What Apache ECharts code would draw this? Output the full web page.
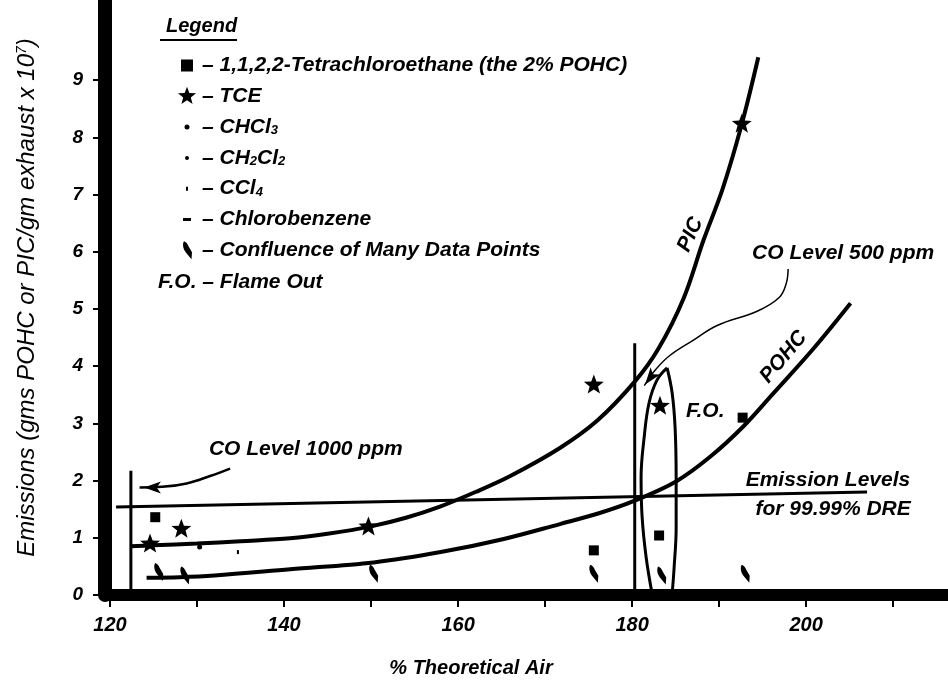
<!DOCTYPE html>
<html><head><meta charset="utf-8">
<script src="https://cdn.jsdelivr.net/npm/echarts@6/dist/echarts.min.js"></script>
<style>html,body{margin:0;padding:0;background:#fff}#c{width:948px;height:683px}</style>
</head><body><div id="c"></div>
<script>
const FONT = "'Liberation Sans', Arial, Helvetica, sans-serif";

// ---- axes ----
const xTicks = [120,130,140,150,160,170,180,190,200,210];
const xLabels = [120,140,160,180,200];
const yTicks = [0,1,2,3,4,5,6,7,8,9];

// ---- data series ----
const tetraPts = [[125.2,1.36],[175.6,0.78],[183.1,1.04],[192.7,3.10]];
const tcePts = [[124.6,0.89],[128.2,1.15],[149.7,1.19],[175.6,3.67],[183.2,3.30],[192.6,8.23]];
const chcl3Pts = [];
const ch2cl2Pts = [[130.3,0.84]];
const ccl4Pts = [[134.7,0.75]];
const chloroPts = [];
const confluencePts = [[125.6,0.40],[128.6,0.34],[150.3,0.37],[175.6,0.37],[183.4,0.34],[193.0,0.37]];

// ---- fitted curves ----
const picCurve = [[122.3,0.85],[125,0.87],[130,0.9],[135,0.94],[140.7,0.99],[145,1.07],[150,1.2],[154,1.35],[158,1.55],[162,1.8],[166,2.08],[171.7,2.57],[176,3.05],[180.3,3.73],[183,4.3],[185.9,5.18],[188.2,6.2],[190.4,7.1],[192.6,8.23],[194.5,9.4]];
const pohcCurve = [[124.2,0.30],[128,0.31],[132,0.34],[140.7,0.45],[150.3,0.57],[158,0.75],[165,0.97],[171.7,1.24],[176,1.42],[180.3,1.65],[185.1,1.99],[189,2.42],[192.8,2.95],[196.2,3.52],[200.8,4.3],[205.1,5.1]];

// ---- reference lines ----
const emissionLine = [[120.7,1.54],[207.0,1.80]];
const co1000Line = [[122.4,0],[122.4,2.17]];
const co500Line = [[180.3,0],[180.3,4.40]];
const foLeft = [[184.02,3.97],[182.87,3.76],[181.95,3.36],[181.38,2.75],[181.03,2.05],[181.15,1.36],[181.61,0.66],[182.30,0.02]];
const foRight = [[184.02,3.97],[184.60,3.53],[184.94,2.92],[185.06,2.05],[185.06,1.18],[184.83,0.49],[184.60,0.02]];
const co1000Arrow = [[133.8,2.21],[131.5,2.08],[128.8,1.95],[126,1.89],[123.4,1.88]];
const co500Arrow = [[197.93,5.70],[197.70,5.44],[196.90,5.20],[194.37,4.96],[189.77,4.71],[187.01,4.45],[184.37,4.19],[182.64,3.93],[181.4,3.66]];
const arrowHeads = [[123.9,1.88],[181.5,3.68]];
const arrowRot = [90,143];

// ---- annotations ----
const annoText = ['CO Level 1000 ppm','CO Level 500 ppm','PIC','POHC','Emission Levels','for 99.99% DRE','F.O.'];
const annoPos = [[142.5,2.54],[204.25,5.97],[186.7,6.30],[197.4,4.16],[202.5,2.0],[203.1,1.50],[188.4,3.22]];
const annoRot = [0,0,66,50,0,0,0];

// ---- legend ----
const legendNames = ['Tetra','TCE','CHCl3','CH2Cl2','CCl4','Chlorobenzene','Confluence'];
const legendText = {
  'Tetra':'– 1,1,2,2-Tetrachloroethane (the 2% POHC)',
  'TCE':'– TCE',
  'CHCl3':'– CHCl{s|3}',
  'CH2Cl2':'– CH{s|2}Cl{s|2}',
  'CCl4':'– CCl{s|4}',
  'Chlorobenzene':'– Chlorobenzene',
  'Confluence':'– Confluence of Many Data Points'
};

function star(cx, cy, R, r) {
  let s = '';
  for (let i = 0; i < 10; i++) {
    const a = (-90 + i * 36) * Math.PI / 180;
    const rad = i % 2 ? r : R;
    s += (i ? 'L' : 'M') + (cx + rad * Math.cos(a)).toFixed(2) + ',' + (cy + rad * Math.sin(a)).toFixed(2);
  }
  return s + 'Z';
}
const FRAME = 'M0,0M20,20';
const starSym = 'path://' + FRAME + star(10,10,10,4.2);
const leafPath = 'M1,0 Q4,1 5.5,5 L9,11 L8.5,18 L3.5,12 Q0,8 0,3.5 Q0,1 1,0 Z';
const leafSym = 'path://' + leafPath;
const icons = {
  'Tetra': 'path://' + FRAME + 'M4,4L16,4L16,16L4,16Z',
  'TCE': 'path://' + FRAME + star(10,10,9.5,4),
  'CHCl3': 'path://' + FRAME + 'M7.5,10A2.5,2.5 0 1 0 12.5,10A2.5,2.5 0 1 0 7.5,10Z',
  'CH2Cl2': 'path://' + FRAME + 'M8,10A2,2 0 1 0 12,10A2,2 0 1 0 8,10Z',
  'CCl4': 'path://' + FRAME + 'M9,8L11,8L11,12L9,12Z',
  'Chlorobenzene': 'path://' + FRAME + 'M6,8.5L14,8.5L14,11.5L6,11.5Z',
  'Confluence': 'path://' + FRAME + 'M7,1Q10,2 11.5,6L15,12L14.5,19L9.5,13Q6,9 6,4.5Q6,2 7,1Z'
};

const txt = {fontFamily: FONT, fontStyle: 'italic', fontWeight: 'bold', color: '#000'};
const black = {color:'#000', opacity:1};

function lineS(data, w, smooth) {
  return {type:'line', data, symbol:'none', smooth: smooth || false, silent:true,
    lineStyle:{color:'#000', width:w, opacity:1}, z:3, animation:false};
}

const chart = echarts.init(document.getElementById('c'), null, {renderer:'canvas'});
const option = {
  animation: false,
  backgroundColor: '#fff',
  grid: {left:110, right:0, top:0, bottom:85, containLabel:false},
  xAxis: {
    type:'value', min:120, max:216.3,
    name:'% Theoretical Air', nameLocation:'middle', nameGap:63,
    nameTextStyle: Object.assign({}, txt, {fontSize:20, padding:[0,116,0,0]}),
    axisLine:{show:true, lineStyle:{color:'#000', width:12, cap:'square'}},
    axisTick:{show:true, length:12, lineStyle:{color:'#000', width:2}, customValues: xTicks},
    axisLabel: Object.assign({}, txt, {fontSize:20, margin:20, customValues: xLabels}),
    splitLine:{show:false}
  },
  yAxis: {
    type:'value', min:0, max:10.4, offset:5,
    name:'Emissions (gms POHC or PIC/gm exhaust x 10{sup|7})', nameLocation:'middle', nameGap:66,
    nameTextStyle: {fontFamily:FONT, fontStyle:'italic', fontWeight:'normal', color:'#000', fontSize:24, lineHeight:24,
      rich:{sup:{fontFamily:FONT, fontStyle:'italic', fontSize:14, lineHeight:12, verticalAlign:'top', color:'#000'}}},
    axisLine:{show:true, lineStyle:{color:'#000', width:14}},
    axisTick:{show:true, length:12, lineStyle:{color:'#000', width:2}, customValues: yTicks},
    axisLabel: Object.assign({}, txt, {fontSize:19, margin:22, customValues: yTicks}),
    splitLine:{show:false}
  },
  legend: {
    show:true, orient:'vertical', left:172, top:50, itemWidth:20, itemHeight:20, itemGap:9.8,
    selectedMode:false, inactiveColor:'#000',
    data: legendNames.map(n => ({name:n, icon: icons[n], itemStyle:{color:'#000', opacity:1}})),
    formatter: n => legendText[n],
    textStyle: Object.assign({}, txt, {fontSize:21, lineHeight:20,
      rich:{s:{fontFamily:FONT, fontStyle:'italic', fontWeight:'bold', fontSize:13, lineHeight:12, verticalAlign:'bottom', color:'#000'}}})
  },
  graphic: [
    {type:'text', left:166, top:16, style:{text:'Legend', font:'italic bold 20px ' + FONT, fill:'#000'}},
    {type:'rect', left:160, top:39, shape:{width:77, height:2}, style:{fill:'#000'}},
    {type:'text', left:158, top:272, style:{text:'F.O. – Flame Out', font:'italic bold 21px ' + FONT, fill:'#000'}}
  ],
  series: [
    lineS(picCurve, 4, 0.35),
    lineS(pohcCurve, 4, 0.35),
    lineS(emissionLine, 3),
    lineS(co1000Line, 3),
    lineS(co500Line, 3),
    lineS(foLeft, 3, 0.4),
    lineS(foRight, 3, 0.4),
    lineS(co1000Arrow, 2.5, 0.4),
    lineS(co500Arrow, 1.5, 0.4),
    {type:'scatter', data: arrowHeads.map((p,i)=>({value:p, symbolRotate: arrowRot[i]})), symbol:'arrow', symbolSize:[9,17],
      itemStyle:black, silent:true, z:4},
    {name:'Tetra', type:'scatter', data:tetraPts, symbol:'rect', symbolSize:10, itemStyle:black, z:5},
    {name:'TCE', type:'scatter', data:tcePts, symbol:starSym, symbolSize:21, itemStyle:black, z:5},
    {name:'CHCl3', type:'scatter', data:chcl3Pts, symbol:'circle', symbolSize:5, itemStyle:black, z:5},
    {name:'CH2Cl2', type:'scatter', data:ch2cl2Pts, symbol:'circle', symbolSize:5, itemStyle:black, z:5},
    {name:'CCl4', type:'scatter', data:ccl4Pts, symbol:'rect', symbolSize:[2,4], itemStyle:black, z:5},
    {name:'Chlorobenzene', type:'scatter', data:chloroPts, symbol:'rect', symbolSize:[8,3], itemStyle:black, z:5},
    {name:'Confluence', type:'scatter', data:confluencePts, symbol:leafSym, symbolSize:[9,18], itemStyle:black, z:5},
    {type:'scatter', silent:true, symbolSize:0, z:6, itemStyle:black,
      data: annoText.map((t,i)=>({name:t, value:annoPos[i],
        label:{show:true, position:'inside', formatter:'{b}', rotate: annoRot[i],
          fontFamily:FONT, fontStyle:'italic', fontWeight:'bold', fontSize:21, color:'#000', opacity:1}}))}
  ]
};
chart.setOption(option);
</script>
</body></html>
